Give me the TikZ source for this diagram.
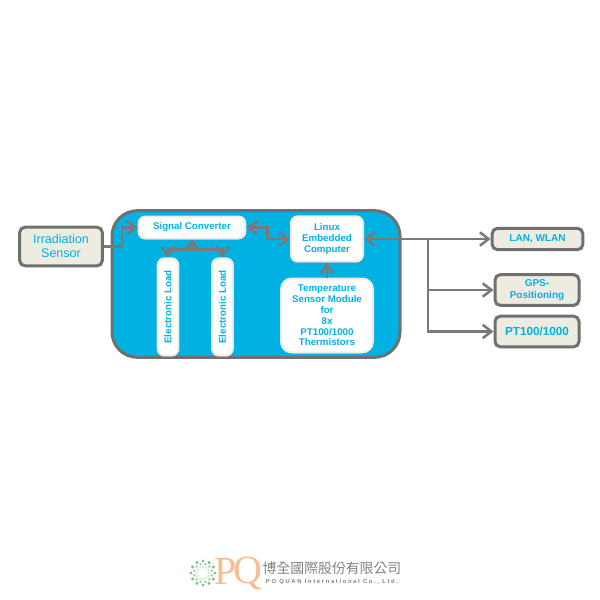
\documentclass[tikz,border=0pt]{standalone}
\usepackage{fontspec}
\setmainfont{Liberation Sans}
\newfontfamily\cjkfont{Noto Sans CJK TC}
\newfontfamily\logofont{Liberation Serif}
\newfontfamily\tinyfont[LetterSpace=28]{Liberation Sans}
\usetikzlibrary{arrows.meta,shadows}
\definecolor{panelblue}{RGB}{0,178,228}
\definecolor{framegray}{RGB}{112,112,112}
\definecolor{arrowgray}{RGB}{125,120,120}
\definecolor{creamfill}{RGB}{238,236,225}
\definecolor{logogreen}{RGB}{130,195,140}
\definecolor{logoorange}{RGB}{245,190,150}
\definecolor{logogray}{RGB}{130,130,130}
\tikzset{every picture/.style={line width=0.75pt},
  softshadow/.style={drop shadow={shadow xshift=0.6pt,shadow yshift=-0.9pt,opacity=0.3,fill=black}},
  outerbox/.style={draw=framegray,fill=creamfill,line width=2.25,rounded corners=4,softshadow,text=panelblue,align=center,inner sep=0,font=\fontsize{7.5}{8.6}\selectfont\bfseries},
  innerbox/.style={draw=creamfill,fill=white,line width=1.5,rounded corners=5,softshadow,text=panelblue,align=center,inner sep=0,font=\fontsize{7.3}{8.1}\selectfont\bfseries},
  link/.style={draw=arrowgray,line width=1.9,>={Straight Barb[length=6.5pt,width=10pt,line width=1.9pt]}}
}
\begin{document}
\begin{tikzpicture}[x=0.75pt,y=0.75pt,yscale=-1,xscale=1]
\useasboundingbox (0,0) rectangle (600,600);

%Panel
\node (panel) [draw=framegray,fill=panelblue,line width=2.25,rounded corners=19,minimum width=216,minimum height=110,inner sep=0] at (256,284) {};

%Boxes outside the panel
\node (irradiation) [outerbox,minimum width=62,minimum height=29,font=\fontsize{9.4}{10.5}\selectfont] at (61,246.5) {Irradiation\\Sensor};
\node (lan) [outerbox,minimum width=68,minimum height=16] at (537.5,239) {LAN, WLAN};
\node (gps) [outerbox,minimum width=63,minimum height=23] at (537,290) {GPS-\\Positioning};
\node (pt) [outerbox,minimum width=63,minimum height=23,font=\fontsize{8.8}{10}\selectfont\bfseries] at (537,331.5) {PT100/1000};

%Boxes inside the panel
\node (signal) [innerbox,minimum width=80,minimum height=16.5] at (192,227.5) {Signal Converter};
\node (loada) [innerbox,minimum width=15.5,minimum height=73] at (168,307) {\rotatebox{90}{Electronic Load}};
\node (loadb) [innerbox,minimum width=15.5,minimum height=73] at (222.5,307) {\rotatebox{90}{Electronic Load}};
\node (linux) [innerbox,minimum width=54,minimum height=34] at (327,239) {Linux\\Embedded\\Computer};
\node (temp) [innerbox,rounded corners=8,minimum width=69,minimum height=55.5] at (327,315.5) {Temperature\\Sensor Module\\for\\8x\\PT100/1000\\Thermistors};

%Connectors
\draw [link,->] (irradiation.east) -- ++(18,0) |- (signal.west);
\draw [link,<->] (signal.east) -- ++(21,0) |- (linux.west);
\draw [link,->] (signal.south) ++(0,10) coordinate (hub) -| (loada.north);
\draw [link,->] (hub) -| (loadb.north);
\draw [link,->] (hub) -- (signal.south);
\draw [link,->] (temp.north) -- (linux.south);
\draw [link,<->] (linux.east) -- (lan.west);
\coordinate (branch) at (428,239);
\draw [link,->] (branch) |- (gps.west);
\draw [link,->] (branch) |- (pt.west);

%Logo
\foreach \ang in {0,30,...,330}{
  \fill [logogreen] (203,573) ++(\ang:12) circle (1.7);
  \fill [logogreen!75] (203,573) ++(\ang+15:9) circle (1.4);
  \fill [logogreen!45] (203,573) ++(\ang:6) circle (1.1);
}
\node (logop) [text=logoorange,inner sep=0,font=\fontsize{30}{30}\logofont] at (226,571) {P};
\node (logoq) [text=logoorange,inner sep=0,font=\fontsize{30}{30}\logofont] at (248,573) {Q};
\node (logoname) [text=logogray,inner sep=0,font=\fontsize{10.4}{11}\cjkfont] at (332,568) {博全國際股份有限公司};
\node (logosub) [text=logogray,inner sep=0,font=\fontsize{4.4}{5}\tinyfont\bfseries] at (332,582) {PO QUAN  International  Co.,  Ltd.};

\end{tikzpicture}
\end{document}
